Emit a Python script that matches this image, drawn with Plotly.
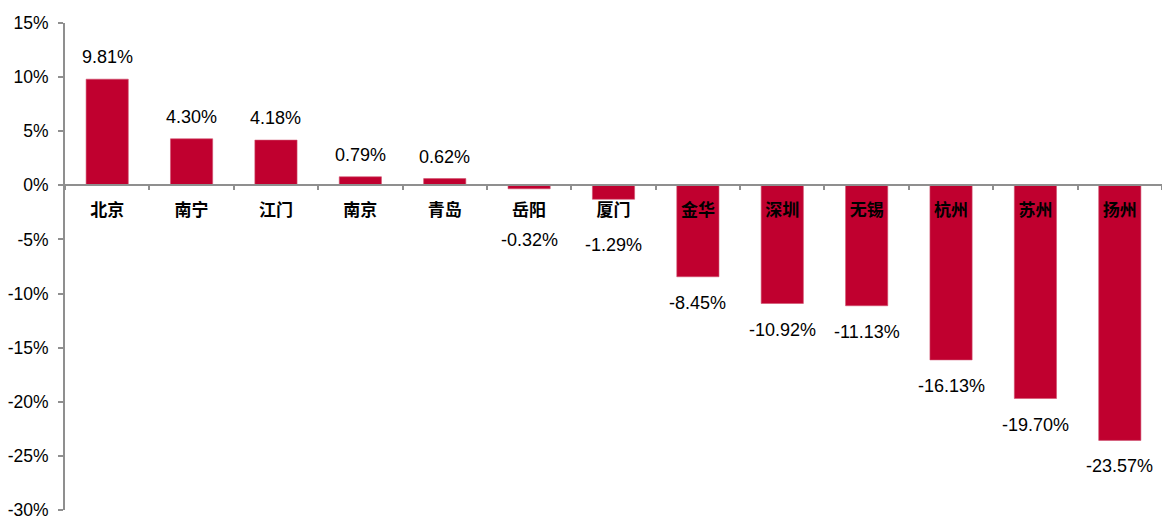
import plotly.graph_objects as go

cities = ["北京", "南宁", "江门", "南京", "青岛", "岳阳", "厦门", "金华", "深圳", "无锡", "杭州", "苏州", "扬州"]
values = [9.81, 4.30, 4.18, 0.79, 0.62, -0.32, -1.29, -8.45, -10.92, -11.13, -16.13, -19.70, -23.57]
y_ticks = [15, 10, 5, 0, -5, -10, -15, -20, -25, -30]

BAR = "#C0002F"
AXIS = "#8F8F8F"
NUM_FONT = "Liberation Sans, Arial, sans-serif"

fig = go.Figure()
fig.add_trace(go.Bar(
    x=cities, y=values,
    marker=dict(color=BAR, line=dict(color="#D0506E", width=0.6)),
    hoverinfo="x+y",
))

annotations = []
for c, v in zip(cities, values):
    if v >= 0:
        shift = 22
    elif v > -3:
        shift = -51 if v > -1 else -46
    else:
        shift = -26
    annotations.append(dict(
        x=c, y=v, xref="x", yref="y", text=f"{v:.2f}%", showarrow=False,
        yshift=shift, font=dict(family=NUM_FONT, size=18, color="#000000"),
    ))

fig.update_layout(
    width=1162, height=521,
    margin=dict(l=65, r=0, t=23, b=11),
    paper_bgcolor="white", plot_bgcolor="white",
    bargap=0.5, showlegend=False,
    annotations=annotations,
    font=dict(family=NUM_FONT, size=17, color="#000000"),
)
fig.update_yaxes(
    range=[-30, 15], tickvals=y_ticks, ticktext=[f"{t}%" for t in y_ticks],
    showgrid=False, zeroline=False,
    showline=True, linecolor=AXIS, linewidth=2,
    ticks="outside", ticklen=5, tickcolor=AXIS, tickwidth=2,
    tickfont=dict(family=NUM_FONT, size=17.5, color="#000000"),
    ticklabelstandoff=6,
)
fig.update_xaxes(
    type="category", range=[-0.5, 12.5],
    anchor="free", position=2/3,
    showgrid=False, zeroline=False,
    showline=True, linecolor=AXIS, linewidth=2,
    ticks="outside", tickson="boundaries", ticklen=4, tickcolor=AXIS, tickwidth=2,
    tickfont=dict(family="Noto Sans CJK SC, sans-serif", size=17, color="#000000", weight="bold"),
    ticklabelstandoff=9,
)

fig.write_html(
    "out.html",
    config={"displayModeBar": False},
    post_script="document.body.style.margin='0';document.body.style.overflow='hidden';",
)
